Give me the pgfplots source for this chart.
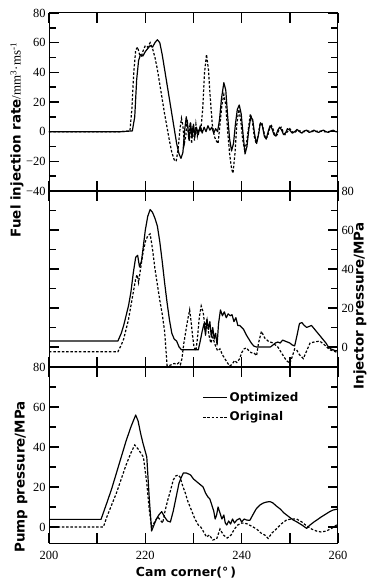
\documentclass[border=0pt]{standalone}
\usepackage{fontspec}
\setmainfont{Liberation Serif}
\newfontfamily\lab{DejaVu Sans}
\usepackage{pgfplots}
\pgfplotsset{compat=1.18}
\pgfplotsset{
 panel/.style={scale only axis, width=289bp, xmin=200, xmax=260,
   xtick={200,210,...,260}, xticklabels={},
   major tick length=10bp, minor tick length=7bp,
   tick align=inside,
   major tick style={draw=black, line width=1.5pt},
   minor tick style={draw=black, line width=1.5pt},
   axis line style={line width=1pt},
   clip=false,
   ticklabel style={font=\fontsize{12.5}{12.5}\selectfont}},
 opt/.style={black, line width=1.2pt, line join=round},
 ori/.style={black, line width=1.2pt, dash pattern=on 2.5pt off 1.8pt},
}
\begin{document}
\begin{tikzpicture}
% ---------- top panel: fuel injection rate
\begin{axis}[panel, at={(0bp,352bp)}, height=178bp, ymin=-40, ymax=80,
  ytick={-40,-20,...,80}, yticklabels={−40,−20,0,20,40,60,80},
  minor ytick={-30,-10,...,70}]
\addplot[opt] coordinates {
(200,0) (205,0) (210,0) (215,0) (217.3,0.5) (217.8,10) (218.2,35) (218.6,48) (219.0,52) (219.5,51) (220.0,54) (220.5,56) (221.0,58) (221.5,57) (222.0,60) (222.5,62) (223.0,60) (223.5,52) (224.0,42) (224.5,32) (225.0,22) (225.5,12) (226.0,2) (226.5,-8) (227.0,-15) (227.4,-18) (227.8,-14) (228.2,2) (228.5,10) (228.8,4) (229.1,-6) (229.4,6) (229.7,-4) (230.0,5) (230.3,-3) (230.6,3) (231.0,-2) (231.4,4) (231.8,-1) (232.2,3) (232.6,0) (233.0,4) (233.4,1) (233.8,3) (234.2,-1) (234.6,2) (235.0,0) (235.4,8) (235.8,22) (236.3,33) (236.7,28) (237.1,10) (237.5,-5) (237.9,-13) (238.3,-8) (238.7,5) (239.1,15) (239.5,18) (239.9,12) (240.3,-2) (240.7,-15) (241.1,-10) (241.5,2) (241.9,10) (242.3,8) (242.7,-2) (243.1,-8) (243.5,-2) (243.9,6) (244.3,4) (244.7,-3) (245.1,-5) (245.5,0) (245.9,4) (246.3,2) (246.7,-2) (247.1,-3) (247.5,1) (247.9,3) (248.3,1) (248.7,-2) (249.1,-1) (249.5,2) (250,1) (250.5,-1) (251,0) (251.5,1.5) (252,0) (252.5,-1) (253,0.5) (253.5,1) (254,-0.5) (254.5,0) (255,1) (255.5,0) (256,-0.5) (256.5,0.5) (257,1) (257.5,0) (258,-0.5) (258.5,0.5) (259,1) (259.5,0) (260,0)
};
\addplot[ori] coordinates {
(200,0) (215,0) (216.8,0.5) (217.2,15) (217.6,40) (218.0,55) (218.4,57) (218.8,52) (219.2,51) (219.6,55) (220.0,58) (220.5,57) (221.0,60) (221.5,56) (222.0,50) (222.5,42) (223.0,32) (223.5,22) (224.0,12) (224.5,3) (225.0,-6) (225.5,-14) (226.0,-19) (226.4,-20) (226.8,-12) (227.2,2) (227.5,9) (227.8,4) (228.1,-8) (228.4,-3) (228.7,8) (229.0,-5) (229.3,6) (229.6,-8) (229.9,4) (230.2,-6) (230.5,5) (230.8,-3) (231.1,2) (231.5,0) (231.9,15) (232.3,40) (232.7,52) (233.1,42) (233.5,22) (233.9,5) (234.3,-3) (234.7,-6) (235.1,-8) (235.5,5) (235.9,18) (236.3,25) (236.7,18) (237.1,0) (237.5,-15) (237.9,-25) (238.2,-28) (238.6,-15) (239.0,5) (239.4,15) (239.8,8) (240.2,-5) (240.6,-12) (241.0,-8) (241.4,2) (241.8,12) (242.2,8) (242.6,-3) (243.0,-8) (243.4,-3) (243.8,5) (244.2,6) (244.6,0) (245.0,-5) (245.4,-3) (245.8,2) (246.2,4) (246.6,1) (247.0,-3) (247.4,-2) (247.8,2) (248.2,3) (248.6,0) (249,-2) (249.5,0) (250,2) (250.5,0) (251,-1) (251.5,1) (252,0.5) (253,0) (254,0.5) (255,0) (256,0.5) (257,0) (258,0) (259,0.5) (260,0)
};
\end{axis}
% ---------- middle panel: injector pressure
\begin{axis}[panel, at={(0bp,176bp)}, height=176bp, ymin=-10.3, ymax=80,
  ytick={0,20,...,80}, yticklabels={0,20,40,60,80},
  minor ytick={-10,10,30,50,70}, yticklabel pos=right]
\addplot[opt] coordinates {
(200,3) (214.3,3) (215,7) (215.5,11) (216,16) (216.5,21) (217,28) (217.5,38) (218,46) (218.4,47) (218.8,41) (219.2,44) (219.6,52) (220,60) (220.5,67) (221,70.5) (221.5,69) (222,66) (222.5,62) (223,54) (223.5,44) (224,33) (224.5,23) (225,14) (225.5,7) (226,4) (226.5,3) (227,0) (227.5,-1.5) (228,-1.5) (229,-1.5) (230,-1.5) (231,-1.5) (231.4,3) (231.8,8) (232.2,12) (232.5,6) (232.8,14) (233.1,9) (233.4,13) (233.7,5) (234,10) (234.3,4) (234.6,7) (234.9,1) (235.2,12) (235.6,19) (236,16) (236.4,18) (236.8,15) (237.2,17) (237.6,16) (238,16.5) (238.4,13) (238.8,15) (239.2,11) (239.6,11) (240,10) (240.4,9) (241,6) (241.5,4) (242,2) (242.5,0.5) (243,0) (244,0) (245,0) (246,0) (246.5,1) (247,2) (247.5,2.5) (248,2) (248.5,3.5) (249,3) (249.5,2.5) (250,2) (250.5,1) (251,0.5) (251.5,6) (252,12) (252.5,12.5) (253,11) (253.5,10) (254,10.5) (254.5,11) (255,9.5) (255.5,8) (256,6.5) (256.5,5) (257,3.5) (257.5,2) (258,0) (258.5,-1) (259,-1.5) (259.5,-2) (260,-2)
};
\addplot[ori] coordinates {
(200,-2.5) (214.3,-2.5) (215,1) (215.5,4) (216,9) (216.5,14) (217,21) (217.5,28) (218,35) (218.3,37) (218.6,33) (219,40) (219.5,48) (220,54) (220.5,57) (221,58) (221.5,50) (222,40) (222.5,32) (223,24) (223.5,17) (224,8) (224.3,-2) (224.5,-9.5) (224.8,-9.8) (225.5,-9) (226,-8.5) (226.5,-9) (227,-8) (227.3,-9) (227.6,-6) (228,2) (228.4,8) (228.8,14) (229.2,19) (229.5,13) (229.8,6) (230.1,0) (230.5,-2) (230.8,4) (231.2,15) (231.6,21) (232,18) (232.4,10) (232.8,14) (233.2,6) (233.6,2) (234,5) (234.5,1) (235,-2) (235.5,-1) (236,-4) (236.5,-6) (237,-8) (237.5,-9.8) (238,-9) (238.5,-7) (239,-8) (239.6,-6) (240,-3) (240.5,-1) (241,-0.5) (241.5,-2) (242,-3) (242.5,-3) (243.1,-4.5) (243.5,2) (244.1,8) (244.5,6) (244.8,4.5) (245.5,3) (246.5,2) (247.5,0) (248.5,-4) (249.3,-7) (250,-8.4) (250.5,-5) (251,-1) (251.4,-1.5) (252,-4) (252.8,-6) (253.5,-2) (254.2,2) (255,2.5) (256.2,3) (257,1.5) (258.3,-1.5) (259,-2) (260,-3)
};
\end{axis}
% ---------- bottom panel: pump pressure
\begin{axis}[panel, at={(0bp,0bp)}, height=176bp, ymin=-8, ymax=80,
  ytick={0,20,...,80}, yticklabels={0,20,40,60,80}, minor ytick={10,30,50,70},
  xticklabels={200,,220,,240,,260},
  xticklabel style={yshift=-5bp},
  legend style={at={(0.52,0.88)}, anchor=north west, draw=none, fill=none,
    font=\lab\bfseries\fontsize{12}{14}\selectfont, row sep=5bp},
  legend cell align=left,
  legend image code/.code={\draw[#1] (0bp,0bp) -- (24bp,0bp);}]
\addplot[opt] coordinates {
(200,3.8) (210.8,3.8) (212,12) (213,19) (214,27) (215,35) (216,43) (217,50) (218,56) (218.5,53) (219,47) (219.5,42) (220.3,35) (220.8,15) (221.3,-2) (221.8,1) (222.3,4) (222.8,6) (223.4,7.7) (224,5) (224.6,3) (225.2,2.5) (225.8,8) (226.4,15) (227,22) (227.5,25) (227.9,27) (228.5,27) (229,26.5) (229.4,26) (230,24) (230.5,23) (231,22) (231.5,21) (232,20) (232.5,17) (233,15) (233.4,14) (233.8,11) (234.2,8) (234.5,4) (234.8,6) (235.1,10) (235.5,7) (235.9,4) (236.3,6) (236.6,2) (236.9,1) (237.3,3) (237.7,1.5) (238.1,4) (238.5,2) (239,3.5) (239.6,4.3) (240,2.5) (240.5,4) (241,3.5) (241.7,3.3) (242.3,6) (243,9) (243.8,11) (244.5,12) (245.2,12.5) (245.9,12.7) (246.5,12) (247.2,10.5) (248,9) (248.8,7) (249.6,5.5) (250.7,3.5) (251.5,2.5) (252.5,1) (253.5,-0.7) (254.2,1) (255,2.5) (255.5,3.3) (256.5,5) (257.5,6.5) (258.3,7.7) (259,8.5) (260,9)
};
\addlegendentry{Optimized}
\addplot[ori] coordinates {
(200,0) (211.3,0) (212,5) (213,11) (214,17) (215,24) (216,31) (217,37) (217.8,41) (218.5,39) (219.6,35) (220.3,22) (220.8,9) (221.3,0) (221.8,2) (222.3,4) (222.6,5) (223.1,3.5) (223.6,2) (224.1,8) (224.6,13) (225.2,18) (225.8,23.5) (226.3,25.5) (226.8,26) (227.2,25) (227.7,21) (228.3,17) (228.8,13) (229.3,10) (229.8,7) (230.3,4) (231,1) (231.5,0) (232,-2) (232.7,-5) (233.3,-4) (234,-6.5) (234.8,-6) (235.5,-1) (236.2,-4) (237,-5.5) (237.8,-4) (238.5,-1) (239.2,1) (240,2) (241,1.7) (242,0.5) (243.1,-1) (244,-3) (244.8,-4) (245.5,-5.7) (246.3,-3) (247.2,-1) (248.2,1.5) (249.3,3.5) (250.3,4) (251.4,4) (252.5,2.5) (253.5,0.5) (254.5,-1) (255.5,-2) (256.5,-2.5) (257.6,-2) (258.8,-0.5) (260,1.5)
};
\addlegendentry{Original}
\end{axis}
% ---------- axis titles
\node[rotate=90, anchor=center] at (-32bp,403bp)
  {\lab\bfseries\fontsize{13.5}{14}\selectfont Fuel injection rate\normalfont\fontsize{13}{14}\selectfont/mm\textsuperscript{3}·ms\textsuperscript{-1}};
\node[rotate=90, anchor=center] at (-28bp,66bp)
  {\lab\bfseries\fontsize{13.5}{14}\selectfont Pump pressure/MPa};
\node[rotate=90, anchor=center] at (311bp,237bp)
  {\lab\bfseries\fontsize{13.5}{14}\selectfont Injector pressure/MPa};
\node[anchor=center] at (137bp,-30bp)
  {\lab\bfseries\fontsize{12.5}{14}\selectfont Cam corner(°\,)};
\path (-49bp,-42bp) rectangle (320bp,543bp);
\end{tikzpicture}
\end{document}
